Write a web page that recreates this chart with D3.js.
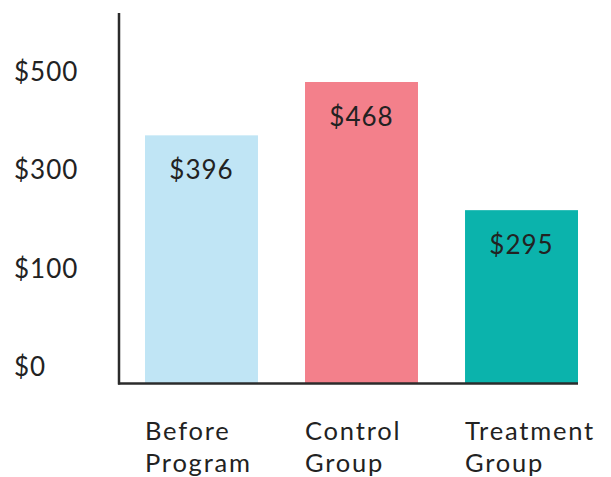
<!DOCTYPE html>
<html>
<head>
<meta charset="utf-8">
<script src="https://cdn.jsdelivr.net/npm/d3@7"></script>
<style>
  body { margin: 0; background: #fff; }
  text { font-family: Lato, "Open Sans", sans-serif; fill: #222; }
</style>
</head>
<body>
<div id="chart"></div>
<script>
(function() {

  var categories = [['Before', 'Program'], ['Control', 'Group'], ['Treatment', 'Group']];
  var values = [396, 468, 295];
  var barColors = ['#c0e5f5', '#f3808b', '#0bb3ac'];
  var tickLabels = ['$0', '$100', '$300', '$500'];

  var width = 611, height = 477;

  var svg = d3.select('#chart')
              .append('svg')
              .attr('width', width)
              .attr('height', height);

  var keys = categories.map(function(c) { return c.join(' '); });

  var x = d3.scaleBand()
    .domain(keys)
    .range([145, 578])
    .paddingInner(0.294)
    .paddingOuter(0);

  // bars in the picture don't start at zero, baseline sits near 61
  var y = d3.scaleLinear()
    .domain([61, 500])
    .range([383.5, 58.3]);

  // tick labels are evenly spaced, not on the bar scale
  var yTicks = d3.scalePoint()
    .domain(tickLabels)
    .range([376, 81]);

  svg.append('g')
    .selectAll('rect')
    .data(values)
    .enter()
    .append('rect')
    .attr('x', function(d, i) { return x(keys[i]); })
    .attr('y', function(d) { return y(d); })
    .attr('width', x.bandwidth())
    .attr('height', function(d) { return y(61) - y(d); })
    .attr('fill', function(d, i) { return barColors[i]; });

  svg.append('g')
    .selectAll('text')
    .data(values)
    .enter()
    .append('text')
    .attr('x', function(d, i) { return x(keys[i]) + x.bandwidth() / 2; })
    .attr('y', function(d) { return y(d) + 44; })
    .attr('text-anchor', 'middle')
    .attr('font-size', 26)
    .attr('letter-spacing', 1)
    .text(function(d) { return '$' + d; });

  svg.append('g')
    .selectAll('text')
    .data(tickLabels)
    .enter()
    .append('text')
    .attr('x', 14)
    .attr('y', function(d) { return yTicks(d); })
    .attr('font-size', 26)
    .attr('letter-spacing', 1)
    .text(function(d) { return d; });

  var labels = svg.append('g')
    .selectAll('text')
    .data(categories)
    .enter()
    .append('text')
    .attr('x', function(d, i) { return x(keys[i]); })
    .attr('y', 440)
    .attr('font-size', 25.5)
    .attr('letter-spacing', 1.8);

  labels.selectAll('tspan')
    .data(function(d) { return d; })
    .enter()
    .append('tspan')
    .attr('x', function() { return this.parentNode.getAttribute('x'); })
    .attr('dy', function(d, i) { return i ? 32 : 0; })
    .text(function(d) { return d; });

  svg.append('line')
    .attr('x1', 119).attr('x2', 119)
    .attr('y1', 13).attr('y2', y(61) + 1)
    .attr('stroke', '#2b2b2b')
    .attr('stroke-width', 2.5);

  svg.append('line')
    .attr('x1', 118).attr('x2', x.range()[1])
    .attr('y1', y(61)).attr('y2', y(61))
    .attr('stroke', '#2b2b2b')
    .attr('stroke-width', 2.5);

})()
</script>
</body>
</html>
